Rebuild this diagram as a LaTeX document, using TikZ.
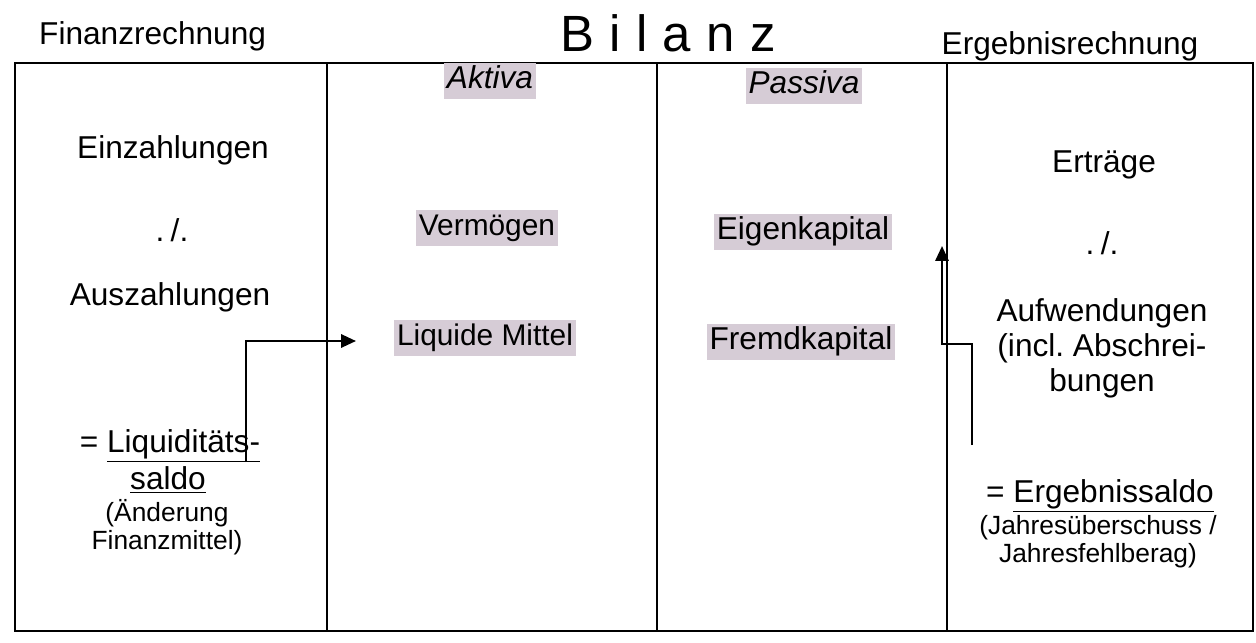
\documentclass[tikz,border=0pt]{standalone}
\usepackage{fontspec}
\setmainfont{Liberation Sans}
\usepackage{xcolor}
\usepackage{tikz}
\usetikzlibrary{arrows.meta, positioning}
\definecolor{markgray}{RGB}{214, 204, 214}
\newcommand{\minussign}{.\hspace{0.2em}/.}

\tikzset{
    frame/.style={line width=1.4pt},
    flow/.style={line width=1.4pt, -{Triangle[length=8.5pt, width=7.5pt]}},
    big/.style={font=\fontsize{18}{20}\selectfont},
    mid/.style={font=\fontsize{17}{19}\selectfont},
    small/.style={font=\fontsize{15}{16}\selectfont},
    marked/.style={fill=markgray, inner xsep=1.5pt, inner ysep=1.5pt, text height=13pt, text depth=4pt},
}

\begin{document}
\begin{tikzpicture}[x=0.02cm, y=-0.02cm]
    % Page size 1256 x 642
    \useasboundingbox (0,0) rectangle (1256,642);

    % Frame and columns
    \draw[frame] (15,63) rectangle (1253,631);
    \foreach \x in {327, 657, 947}
        \draw[frame] (\x,63) -- (\x,631);

    % Headings
    \node[big, anchor=west] (finanz) at (33,36) {Finanzrechnung};
    \node (title) at (668,33) {\fontsize{29}{32}\selectfont\addfontfeature{LetterSpace=30}Bilanz};
    \node[big] (ergebnis) at (1070,46) {Ergebnisrechnung};

    % Finanzrechnung column
    \node[big] (einz) at (173,150) {Einzahlungen};
    \node[big] (minus1) at (172,230) {\minussign};
    \node[big] (ausz) at (170,297) {Auszahlungen};
    \node[big] (liq) at (170,446) {= \underline{Liquiditäts-}};
    \node[big] (saldo) at (168,480) {\underline{saldo}};
    \node[small, align=center] (aend) at (167,527) {(Änderung\\Finanzmittel)};

    % Aktiva column
    \node[big, marked] (aktiva) at (490,81) {\itshape Aktiva};
    \node[mid, marked] (verm) at (487,228) {Vermögen};
    \node[mid, marked] (liquide) at (485,338) {Liquide Mittel};

    % Passiva column
    \node[big, marked] (passiva) at (804,86) {\itshape Passiva};
    \node[big, marked] (eigen) at (803,232) {Eigenkapital};
    \node[big, marked] (fremd) at (801,342) {Fremdkapital};

    % Ergebnisrechnung column
    \node[big] (ertr) at (1104,165) {Erträge};
    \node[big] (minus2) at (1102,243) {\minussign};
    \node[big, align=center] (aufw) at (1102,348) {Aufwendungen\\(incl.\ Abschrei-\\bungen};
    \node[big] (ergsaldo) at (1100,496) {= \underline{Ergebnissaldo}};
    \node[small, align=center] (jahr) at (1098,542) {(Jahresüberschuss /\\Jahresfehlberag)};

    % Saldo arrows
    \coordinate (liqout) at (246,462);
    \draw[flow] (liqout) |- ([xshift=-0.76cm, yshift=-0.06cm]liquide.west);
    \coordinate (ergout) at (972,445);
    \coordinate (ergknee) at (972,344);
    \coordinate (ergin) at (942,246);
    \draw[flow] (ergout) -- (ergknee) -| (ergin);
\end{tikzpicture}
\end{document}
